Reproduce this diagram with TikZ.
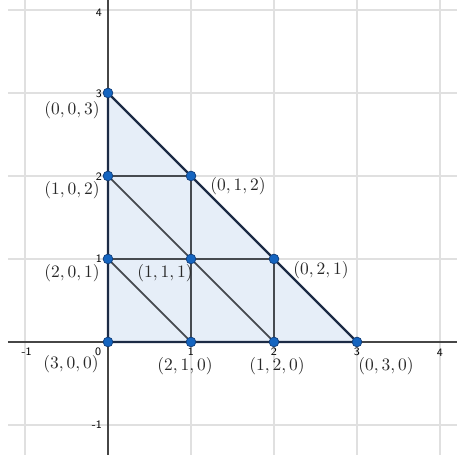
\documentclass[tikz,border=0pt]{standalone}
\begin{document}
\begin{tikzpicture}[x=47.6pt,y=47.6pt,
  gridline/.style={draw=gridgray,line width=0.7pt},
  axisline/.style={draw=axisgray,line width=0.7pt},
  outeredge/.style={draw=navy,line width=1.3pt,line join=round},
  inneredge/.style={draw=innergray,line width=1.0pt},
  vertexdot/.style={circle,fill=ptblue,draw=ptedge,line width=0.4pt,minimum size=5.6pt,inner sep=0pt},
  lab/.style={inner sep=0pt,text=labgray},
  tick/.style={inner sep=0pt,font=\fontsize{6.5}{7}\selectfont\sffamily,text=black}]
\definecolor{gridgray}{RGB}{224,224,224}
\definecolor{axisgray}{RGB}{70,70,70}
\definecolor{navy}{RGB}{28,43,69}
\definecolor{innergray}{RGB}{70,74,80}
\definecolor{ptblue}{RGB}{21,101,192}
\definecolor{ptedge}{RGB}{15,60,120}
\definecolor{fillblue}{RGB}{230,238,248}
\definecolor{labgray}{RGB}{40,40,40}
\useasboundingbox (-1.301,-1.422) rectangle (4.205,4.120);
% grid
\foreach \i in {-1,1,2,3,4} \draw[gridline] (\i,-1.361) -- (\i,4.12);
\foreach \j in {-1,1,2,3,4} \draw[gridline] (-1.205,\j) -- (4.205,\j);
% axes
\draw[axisline] (-1.205,0) -- (4.205,0);
\draw[axisline] (0,-1.361) -- (0,4.12);
% tick labels
\node[tick,anchor=east] (ty4) at (-0.07,3.964) {4};
\node[tick,anchor=east] (ty3) at (-0.07,2.99) {3};
\node[tick,anchor=east] (ty2) at (-0.07,1.99) {2};
\node[tick,anchor=east] (ty1) at (-0.07,1.0) {1};
\node[tick,anchor=east] (tym1) at (-0.07,-1.0) {-1};
\node[tick] (tx0) at (-0.12,-0.115) {0};
\node[tick] (txm1) at (-0.98,-0.12) {-1};
\node[tick] (tx1) at (1,-0.12) {1};
\node[tick] (tx2) at (2,-0.12) {2};
\node[tick] (tx3) at (3,-0.12) {3};
\node[tick] (tx4) at (4,-0.13) {4};
% vertices
\foreach \a/\b in {0/0,1/0,2/0,3/0,0/1,1/1,2/1,0/2,1/2,0/3}
  \coordinate (p\a\b) at (\a,\b);
% fill
\fill[fillblue] (p00) -- (p30) -- (p03) -- cycle;
% inner lines
\draw[inneredge] (p01) -- (p21);
\draw[inneredge] (p02) -- (p12);
\draw[inneredge] (p10) -- (p12);
\draw[inneredge] (p20) -- (p21);
\draw[inneredge] (p02) -- (p20);
\draw[inneredge] (p01) -- (p10);
% outer triangle
\draw[outeredge] (p00) -- (p30) -- (p03) -- cycle;
% dots
\foreach \a/\b in {0/0,1/0,2/0,3/0,0/1,1/1,2/1,0/2,1/2,0/3}
  \node[vertexdot] (d\a\b) at (p\a\b) {};
% labels
\node[lab] (l003) at (-0.434,2.795) {$(0,0,3)$};
\node[lab] (l102) at (-0.434,1.831) {$(1,0,2)$};
\node[lab] (l201) at (-0.434,0.831) {$(2,0,1)$};
\node[lab] (l300) at (-0.446,-0.265) {$(3,0,0)$};
\node[lab] (l111) at (0.687,0.831) {$(1,1,1)$};
\node[lab] (l012) at (1.566,1.880) {$(0,1,2)$};
\node[lab] (l021) at (2.566,0.867) {$(0,2,1)$};
\node[lab] (l210) at (0.928,-0.289) {$(2,1,0)$};
\node[lab] (l120) at (2.036,-0.289) {$(1,2,0)$};
\node[lab] (l030) at (3.349,-0.289) {$(0,3,0)$};
\end{tikzpicture}
\end{document}
